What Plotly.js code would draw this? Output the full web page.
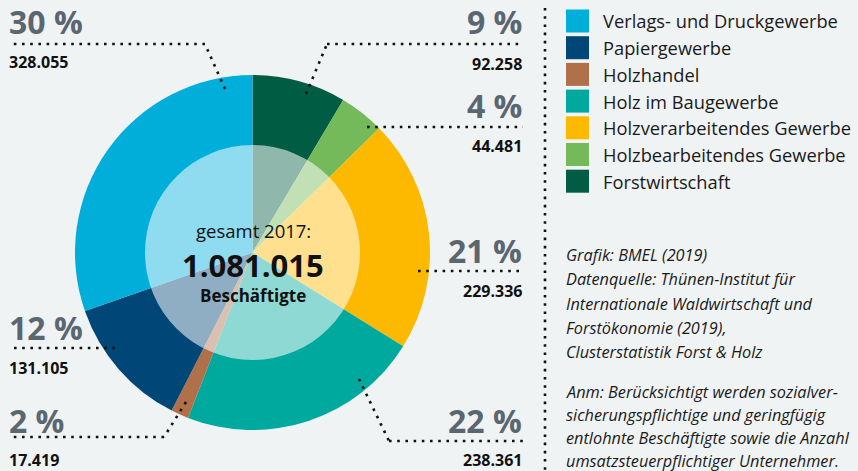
<!DOCTYPE html>
<html>
<head>
<meta charset="utf-8">
<script src="https://cdn.plot.ly/plotly-3.0.1.min.js"></script>
<style>html,body{margin:0;padding:0;background:#F0F3F4;}#chart{width:858px;height:471px;}</style>
</head>
<body>
<div id="chart"></div>
<script>
// ---- data (clockwise from 12 o'clock) ----
const categories = ["Forstwirtschaft","Holzbearbeitendes Gewerbe","Holzverarbeitendes Gewerbe","Holz im Baugewerbe","Holzhandel","Papiergewerbe","Verlags- und Druckgewerbe"];
const values = [92258, 44481, 229336, 238361, 17419, 131105, 328055];
const colors = ["#005C42","#74B95A","#FCB900","#00A99D","#B0714A","#004677","#00AEDA"];
const totalLabel = "1.081.015";
const centerTop = "gesamt 2017:";
const centerBottom = "Beschäftigte";
const sourceLines = ["Grafik: BMEL (2019)","Datenquelle: Thünen-Institut für","Internationale Waldwirtschaft und","Forstökonomie (2019),","Clusterstatistik Forst & Holz"];
const noteLines = ["Anm: Berücksichtigt werden sozialver-","sicherungspflichtige und geringfügig","entlohnte Beschäftigte sowie die Anzahl","umsatzsteuerpflichtiger Unternehmer."];

// ---- layout helpers ----
const W = 858, H = 471;
const px = x => x / W;
const py = y => 1 - y / H;
const cx = 252.5, cy = 252.5, R = 177.5, Ri = 107.5;

const total = values.reduce((a,b)=>a+b,0);
const fmt = v => String(v).replace(/\B(?=(\d{3})+(?!\d))/g, ".");
const pct = v => Math.round(v/total*100) + " %";

// label placement per category (pixel coords)
const labelPos = [
  {x:523, anchor:"right", yp:22, yn:64, leader:[[306,94],[327,44],[523,44]]},
  {x:523, anchor:"right", yp:106, yn:146, leader:[[367,127],[523,127]]},
  {x:523, anchor:"right", yp:250, yn:291, leader:[[418,271],[523,271]]},
  {x:523, anchor:"right", yp:420, yn:460, leader:[[359,379],[389,441],[523,441]]},
  {x:8, anchor:"left", yp:420, yn:460, leader:[[186,402],[164,437],[9,437]]},
  {x:8, anchor:"left", yp:327, yn:368, leader:[[115,348],[9,348]]},
  {x:8, anchor:"left", yp:22, yn:62, leader:[[225,89],[205,44],[9,44]]}
];

const FONT = "Open Sans, Noto Sans, sans-serif";
const annotations = [];
const shapes = [];
const dot = {color:"#111", width:2.6, dash:"2.6px,5.6px"};

categories.forEach((c,i)=>{
  const p = labelPos[i];
  annotations.push({xref:"paper",yref:"paper",x:px(p.x),y:py(p.yp),xanchor:p.anchor,yanchor:"middle",showarrow:false,
    text:"<b>"+pct(values[i])+"</b>",font:{family:FONT,size:32,color:"#5B6770"},borderpad:0});
  annotations.push({xref:"paper",yref:"paper",x:px(p.x),y:py(p.yn),xanchor:p.anchor,yanchor:"middle",showarrow:false,
    text:"<b>"+fmt(values[i])+"</b>",font:{family:FONT,size:16,color:"#111"},borderpad:0});
  const pts = p.leader;
  for (let k=0;k<pts.length-1;k++){
    shapes.push({type:"line",xref:"paper",yref:"paper",x0:px(pts[k][0]),y0:py(pts[k][1]),x1:px(pts[k+1][0]),y1:py(pts[k+1][1]),line:dot,layer:"above"});
  }
});

// legend (reverse order of slices)
const legendOrder = categories.map((c,i)=>i).reverse();
legendOrder.forEach((idx,row)=>{
  const yc = 21 + row*26.7;
  shapes.push({type:"rect",xref:"paper",yref:"paper",x0:px(566),x1:px(589),y0:py(yc-11.5),y1:py(yc+11.5),fillcolor:colors[idx],line:{width:0}});
  annotations.push({xref:"paper",yref:"paper",x:px(602),y:py(yc),xanchor:"left",yanchor:"middle",showarrow:false,
    text:categories[idx],font:{family:FONT,size:18.3,color:"#1a1a1a"},borderpad:0});
});

// vertical separator
shapes.push({type:"line",xref:"paper",yref:"paper",x0:px(545),x1:px(545),y0:py(8),y1:py(471),line:dot});

// source & notes
sourceLines.forEach((t,i)=>{
  annotations.push({xref:"paper",yref:"paper",x:px(565),y:py(255+i*24.3),xanchor:"left",yanchor:"middle",showarrow:false,
    text:"<i>"+t+"</i>",font:{family:FONT,size:16.3,color:"#1a1a1a"},borderpad:0});
});
noteLines.forEach((t,i)=>{
  annotations.push({xref:"paper",yref:"paper",x:px(565),y:py(392+i*23),xanchor:"left",yanchor:"middle",showarrow:false,
    text:"<i>"+t+"</i>",font:{family:FONT,size:16.3,color:"#1a1a1a"},borderpad:0});
});

// center text
annotations.push({xref:"paper",yref:"paper",x:px(253),y:py(230),xanchor:"center",yanchor:"middle",showarrow:false,
  text:centerTop,font:{family:FONT,size:18.5,color:"#111"}});
annotations.push({xref:"paper",yref:"paper",x:px(253),y:py(265),xanchor:"center",yanchor:"middle",showarrow:false,
  text:"<b>"+totalLabel+"</b>",font:{family:FONT,size:31,color:"#111"}});
annotations.push({xref:"paper",yref:"paper",x:px(253),y:py(295),xanchor:"center",yanchor:"middle",showarrow:false,
  text:"<b>"+centerBottom+"</b>",font:{family:FONT,size:17,color:"#111"}});

const traces = [
  {type:"pie",labels:categories,values:values,sort:false,direction:"clockwise",rotation:0,
   marker:{colors:colors,line:{width:0}},textinfo:"none",hoverinfo:"label+value",showlegend:false,
   domain:{x:[px(cx-R),px(cx+R)],y:[py(cy+R),py(cy-R)]}},
  {type:"pie",labels:["gesamt"],values:[total],sort:false,
   marker:{colors:["rgba(255,255,255,0.56)"],line:{width:0}},textinfo:"none",hoverinfo:"skip",showlegend:false,
   domain:{x:[px(cx-Ri),px(cx+Ri)],y:[py(cy+Ri),py(cy-Ri)]}}
];

Plotly.newPlot("chart", traces, {
  width:W,height:H,margin:{l:0,r:0,t:0,b:0},
  paper_bgcolor:"#F0F3F4",plot_bgcolor:"#F0F3F4",
  showlegend:false,annotations:annotations,shapes:shapes
},{displayModeBar:false,staticPlot:true});
</script>
</body>
</html>
